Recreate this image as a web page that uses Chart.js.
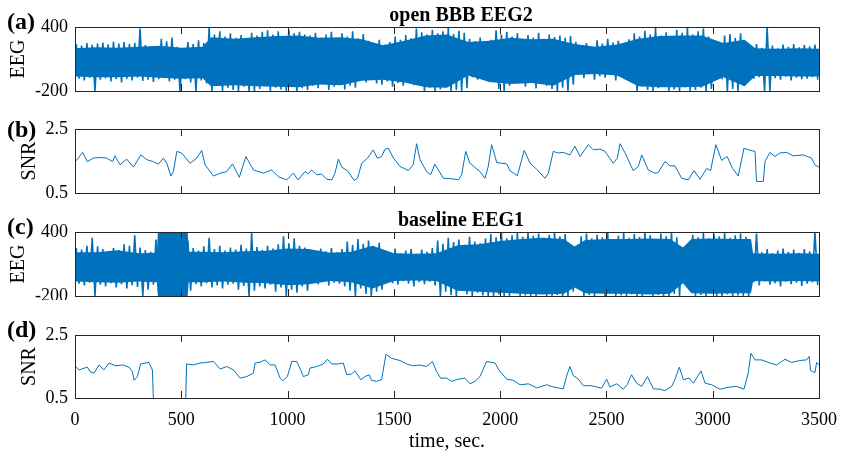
<!DOCTYPE html>
<html>
<head>
<meta charset="utf-8">
<script src="https://cdn.jsdelivr.net/npm/chart.js@4.4.1/dist/chart.umd.min.js"></script>
<style>
  html, body { margin: 0; padding: 0; background: #fff; }
  #wrap { position: relative; width: 841px; height: 452px; }
  #wrap canvas { position: absolute; left: 0; }
</style>
</head>
<body>
<div id="wrap">
  <canvas id="panelA" width="841" height="100" style="top:0px"></canvas>
  <canvas id="panelB" width="841" height="100" style="top:100px"></canvas>
  <canvas id="panelC" width="841" height="100" style="top:200px"></canvas>
  <canvas id="panelD" width="841" height="152" style="top:300px"></canvas>
</div>
<script>
// EEG envelopes, one [low, high] pair per 25 s bin
const binSec = 25;
const eegA_hi = [240, 225, 250, 232, 245, 255, 238, 262, 245, 258, 240, 252, 385, 230, 215, 205,
  290, 265, 300, 215, 195, 260, 240, 275, 250, 395, 330, 360, 310, 340, 300, 325, 180, 345, 320, 355,
  370, 330, 360, 315, 375, 340, 355, 330, 320, 345, 300, 330, 355, 285, 340, 310, 360, 295, 335,
  270, 245, 280, 235, 260, 310, 280, 325, 295, 385, 350, 330, 375, 340, 360, 390, 335, 365, 345,
  290, 265, 300, 255, 280, 370, 330, 355, 310, 340, 280, 325, 300, 345, 290, 330, 305, 320, 300, 315,
  260, 230, 250, 215, 275, 245, 290, 255, 270, 240, 285, 340, 310, 365, 330, 390, 320, 350, 300, 375,
  345, 395, 330, 360, 385, 310, 240, 215, 320, 335, 300, 340, 230, 215, 240, 205, 400,
  225, 200, 235, 215, 240, 210, 230, 220, 235];
const eegA_lo = [-85, -100, -75, -200, -95, -80, -110, -90, -120, -85, -100, -75, -105, -95, -115, -90,
  -80, -110, -95, -200, -90, -120, -200, -100, -130, -200, -150, -200, -170, -190, -200, -160, -200,
  -200, -180, -150, -200, -170, -185, -200, -160, -200, -175, -190, -150, -175, -130, -190, -160, -140,
  -185, -150, -170, -100, -120, -90, -130, -140, -110, -160, -125, -150, -115, -145, -135,
  -200, -170, -200, -185, -160, -200, -190, -200, -175, -70, -95, -60, -110, -85, -180, -200, -150,
  -120, -90, -160, -110, -175, -130, -150, -180, -200, -170, -200, -140,
  -50, -80, -40, -95, -60, -75, -45, -100, -65, -85, -110,
  -200, -160, -190, -200, -175, -150, -200, -185, -200, -165, -200, -190, -170, -200, -180,
  -70, -90, -200, -180, -200, -150, -60, -85, -70, -200, -200, -80, -95, -65, -100, -75, -90, -85, -70, -95];
const eegC_hi = [250, 235, 270, 345, 265, 240, 220, 250, 230, 285, 270, 370, 255, 230, 215, 330,
  400, 400, 400, 400, 400, 320, 250, 225, 265, 345, 240, 270, 225, 255, 235, 280, 245, 390,
  260, 230, 270, 245, 285, 360, 295, 340, 270, 255, 230, 215, 245, 220, 250, 210, 240,
  310, 280, 335, 290, 320, 265, 300, 230, 210, 245, 200, 225, 240, 195, 235, 215, 250,
  320, 290, 345, 305, 330, 280, 355, 310, 295, 340,
  380, 350, 395, 340, 370, 390, 355, 400, 365, 385, 345, 375, 395, 360, 380, 250, 270,
  360, 385, 340, 375, 350, 390, 325, 365, 395, 345, 380, 355, 400, 370, 335, 385, 360, 390, 350,
  255, 240, 375, 350, 395, 340, 380, 360, 390, 345, 370, 385, 355,
  230, 385, 210, 240, 200, 225, 245, 215, 235, 205, 240, 220, 400];
const eegC_lo = [-85, -100, -75, -200, -95, -110, -80, -120, -90, -130, -100, -115, -200, -140, -95, -170,
  -200, -200, -200, -200, -200, -150, -90, -110, -80, -120, -100, -130, -95, -85, -140, -105, -200,
  -150, -110, -130, -95, -160, -120, -200, -140, -170, -110, -150, -70, -90, -60, -100, -75, -85, -110,
  -150, -200, -130, -180, -200, -160, -140, -55, -80, -95, -60, -85, -110, -70, -90, -65, -100,
  -200, -160, -190, -200, -150, -185, -200, -170, -195, -200,
  -200, -185, -200, -200, -175, -200, -195, -200, -200, -180, -200, -200, -190, -200, -200, -160, -130,
  -200, -190, -200, -175, -200, -140, -200, -195, -200, -185, -200, -200, -170, -200, -190, -200, -200, -180, -200,
  -80, -100, -200, -190, -200, -175, -200, -200, -185, -200, -195, -200, -200,
  -70, -100, -60, -95, -80, -110, -65, -90, -75, -105, -85, -70, -100];

// solid inner band of the EEG traces
const coreA_t = [0, 100, 200, 300, 400, 500, 600, 640, 750, 850, 950, 1050, 1150, 1250, 1350, 1450, 1550, 1650,
  1750, 1850, 1950, 2050, 2150, 2250, 2350, 2450, 2550, 2650, 2750, 2850, 2950, 3050, 3150, 3200, 3300, 3400, 3500];
const coreA_hi = [200, 210, 205, 215, 225, 205, 215, 305, 290, 305, 315, 320, 300, 305, 285, 230, 270, 320,
  330, 260, 270, 300, 285, 290, 240, 215, 235, 290, 315, 320, 320, 250, 280, 200, 195, 200, 195];
const coreA_lo = [-65, -70, -70, -65, -75, -85, -80, -155, -145, -155, -160, -165, -140, -145, -105, -95, -120, -165,
  -170, -55, -115, -135, -125, -150, -50, -40, -55, -155, -165, -165, -160, -70, -155, -60, -60, -65, -65];
const coreC_t = [0, 100, 200, 300, 385, 390, 530, 535, 600, 700, 800, 900, 1000, 1100, 1200, 1300, 1400, 1500,
  1600, 1700, 1800, 1900, 2000, 2100, 2200, 2300, 2350, 2400, 2500, 2600, 2700, 2800, 2860, 2900, 3000, 3100,
  3180, 3190, 3300, 3400, 3500];
const coreC_hi = [210, 210, 230, 200, 205, 400, 400, 215, 215, 210, 220, 225, 245, 240, 205, 215, 270, 200,
  195, 200, 275, 285, 315, 335, 345, 335, 265, 325, 335, 335, 340, 335, 255, 335, 340, 335,
  335, 200, 195, 200, 195];
const coreC_lo = [-65, -70, -75, -65, -70, -200, -200, -70, -70, -65, -75, -80, -100, -90, -60, -70, -130, -60,
  -55, -60, -150, -160, -170, -180, -185, -180, -120, -175, -180, -180, -185, -180, -80, -175, -180, -175,
  -175, -60, -65, -60, -65];

// SNR traces: time (s) and value
const snrB_t = [0, 12, 36, 58, 86, 118, 149, 177, 188, 212, 243, 275, 310, 338, 369, 392, 416, 432, 451, 463,
  479, 502, 541, 573, 596, 612, 651, 683, 714, 741, 773, 804, 839, 886, 925, 957, 996, 1027, 1049, 1082,
  1098, 1113, 1137, 1160, 1184, 1208, 1223, 1239, 1255, 1286, 1313, 1329, 1349, 1376, 1403, 1422, 1443,
  1458, 1474, 1498, 1529, 1568, 1591, 1607, 1623, 1654, 1673, 1693, 1733, 1780, 1803, 1819, 1838, 1858,
  1905, 1929, 1944, 1960, 1984, 2007, 2031, 2046, 2081, 2113, 2141, 2172, 2211, 2227, 2250, 2273, 2297,
  2328, 2352, 2376, 2415, 2438, 2470, 2493, 2532, 2551, 2564, 2588, 2626, 2650, 2666, 2697, 2728, 2744,
  2775, 2799, 2822, 2854, 2885, 2912, 2940, 2972, 2990, 3015, 3042, 3068, 3093, 3120, 3147, 3167, 3199,
  3206, 3238, 3246, 3269, 3293, 3316, 3348, 3379, 3426, 3465, 3481, 3500];
const snrB_v = [1.48, 1.56, 1.77, 1.48, 1.59, 1.61, 1.59, 1.48, 1.66, 1.38, 1.56, 1.31, 1.69, 1.54, 1.48, 1.40, 1.59, 1.43, 1.03, 1.17,
  1.80, 1.75, 1.43, 1.59, 1.83, 1.38, 1.03, 1.12, 1.17, 1.41, 0.99, 1.64, 1.22, 1.12, 1.22, 1.01, 0.91, 1.12, 0.91, 1.17,
  1.10, 1.22, 1.07, 1.09, 0.93, 0.91, 1.12, 1.56, 1.31, 1.17, 0.89, 0.96, 1.43, 1.59, 1.85, 1.59, 1.64,
  1.87, 1.90, 1.59, 1.33, 1.20, 1.38, 2.04, 1.54, 1.17, 1.07, 1.40, 0.96, 0.94, 0.91, 1.07, 1.80, 1.43,
  1.17, 0.96, 1.33, 2.01, 1.45, 1.43, 1.41, 1.20, 1.04, 1.83, 1.43, 1.24, 0.96, 1.12, 1.80, 1.75, 1.77,
  1.69, 1.96, 1.64, 2.01, 1.85, 1.87, 1.80, 1.43, 1.59, 2.04, 1.75, 1.20, 1.33, 1.69, 1.22, 1.12, 1.14,
  1.48, 1.35, 1.35, 0.96, 0.91, 1.20, 0.93, 1.27, 1.20, 2.01, 1.52, 1.64, 1.27, 1.03, 1.90, 1.85, 1.80,
  0.86, 0.86, 1.48, 1.77, 1.64, 1.75, 1.77, 1.66, 1.69, 1.59, 1.38, 1.31];
const snrD_t = [0, 19, 58, 70, 89, 113, 136, 160, 192, 223, 254, 270, 278, 293, 309, 348, 364, 370, 520, 525,
  557, 588, 620, 651, 683, 714, 745, 777, 808, 839, 847, 870, 894, 918, 941, 965, 977, 999, 1020, 1043,
  1062, 1074, 1098, 1105, 1137, 1168, 1188, 1207, 1239, 1262, 1278, 1301, 1317, 1345, 1364, 1384, 1395,
  1419, 1442, 1463, 1489, 1529, 1560, 1591, 1623, 1654, 1681, 1701, 1720, 1748, 1772, 1803, 1835, 1858,
  1882, 1905, 1936, 1976, 1999, 2031, 2062, 2094, 2133, 2172, 2219, 2250, 2297, 2312, 2328, 2344, 2368,
  2391, 2430, 2454, 2477, 2501, 2516, 2548, 2579, 2597, 2618, 2642, 2666, 2693, 2721, 2752, 2775, 2807,
  2822, 2843, 2862, 2889, 2909, 2945, 2964, 2995, 3034, 3073, 3112, 3147, 3167, 3180, 3199, 3230, 3269,
  3301, 3340, 3371, 3410, 3442, 3454, 3460, 3481, 3489, 3500];
const snrD_v = [1.52, 1.39, 1.48, 1.34, 1.29, 1.55, 1.39, 1.61, 1.52, 1.55, 1.48, 1.34, 1.06, 1.18, 1.58, 1.63, 1.39, 0.2, 0.2, 1.58,
  1.55, 1.61, 1.63, 1.66, 1.42, 1.50, 1.39, 1.13, 1.18, 1.29, 1.61, 1.63, 1.71, 1.55, 1.55, 1.13, 1.05, 1.18, 1.66, 1.66,
  1.39, 1.18, 1.24, 1.45, 1.50, 1.58, 1.73, 1.58, 1.58, 1.61, 1.24, 1.26, 1.36, 1.08, 1.18, 1.24, 1.06,
  1.03, 1.08, 1.89, 1.76, 1.69, 1.58, 1.52, 1.55, 1.50, 1.66, 1.34, 1.13, 1.13, 1.03, 1.10, 1.13, 0.95,
  1.03, 1.18, 1.66, 1.61, 1.34, 1.10, 1.06, 0.92, 0.95, 0.82, 0.92, 0.85, 0.79, 1.18, 1.50, 1.21, 1.10,
  0.89, 0.89, 0.85, 0.81, 1.10, 0.85, 0.95, 0.78, 0.92, 1.24, 0.97, 0.87, 1.18, 0.79, 0.78, 0.73, 0.87,
  1.08, 1.48, 1.08, 1.13, 0.97, 1.36, 0.97, 0.92, 0.78, 0.84, 0.87, 0.78, 1.29, 1.92, 1.71, 1.71, 1.61,
  1.55, 1.73, 1.63, 1.69, 1.71, 1.82, 1.37, 1.31, 1.63, 1.55];

const xTicks = [0, 500, 1000, 1500, 2000, 2500, 3000, 3500];

const serif = "'Liberation Serif', 'Times New Roman', serif";
const blue = '#0072BD';

// box round the plot, inward ticks top and bottom, panel letters and titles
const frame = {
  id: 'frame',
  afterDraw(chart, args, opts) {
    const { ctx, chartArea: a, scales: { x } } = chart;
    ctx.save();
    ctx.strokeStyle = '#262626';
    ctx.lineWidth = 1;
    ctx.beginPath();
    x.ticks.forEach(t => {
      if (t.value <= x.min || t.value >= x.max) return;
      const px = Math.round(x.getPixelForValue(t.value)) + 0.5;
      ctx.moveTo(px, a.top);
      ctx.lineTo(px, a.top + 7);
      ctx.moveTo(px, a.bottom);
      ctx.lineTo(px, a.bottom - 7);
    });
    ctx.stroke();
    ctx.strokeRect(Math.round(a.left) + 0.5, Math.round(a.top) + 0.5, Math.round(a.width), Math.round(a.height));
    ctx.fillStyle = '#000';
    ctx.textBaseline = 'alphabetic';
    (opts.texts || []).forEach(t => {
      ctx.font = t.font;
      ctx.textAlign = t.align || 'left';
      ctx.fillText(t.text, t.x, t.y - opts.top);
    });
    ctx.restore();
  }
};

function xAxis(height, labels) {
  return {
    type: 'linear',
    min: 0,
    max: 3500,
    offset: false,
    grid: { display: false, drawTicks: false, offset: false },
    border: { display: false },
    afterBuildTicks: s => { s.ticks = xTicks.map(v => ({ value: v })); },
    ticks: { display: labels, padding: 11, color: '#000', maxRotation: 0, autoSkip: false,
      font: { family: serif, size: 18 }, callback: v => String(v) },
    title: { display: labels, text: 'time, sec.', color: '#000', font: { family: serif, size: 20, lineHeight: 1 },
      padding: { top: 0, bottom: 0 } },
    afterFit: s => { s.height = height; s.paddingLeft = 0; s.paddingRight = 0; }
  };
}

function yAxis(min, max, label, titlePad, fmt) {
  return {
    min: min,
    max: max,
    grid: { display: false, drawTicks: false },
    border: { display: false },
    afterBuildTicks: s => { s.ticks = [{ value: min }, { value: max }]; },
    ticks: { padding: 7, color: '#000', font: { family: serif, size: 18 }, callback: fmt },
    title: { display: true, text: label, color: '#000', font: { family: serif, size: 20 }, padding: { top: titlePad, bottom: 0 } },
    afterFit: s => { s.width = 75; s.paddingTop = 0; s.paddingBottom = 0; }
  };
}

function letter(text, y) {
  return { text: text, x: 7, y: y, font: 'bold 24px ' + serif };
}

function baseOptions(xAx, yAx, top, texts) {
  return {
    responsive: false,
    animation: false,
    layout: { padding: { top: texts.padTop, right: 22, bottom: 0, left: 0 } },
    scales: { x: xAx, y: yAx },
    plugins: {
      legend: { display: false },
      tooltip: { enabled: false },
      filler: { propagate: false },
      frame: { top: top, texts: texts.list }
    }
  };
}

function eegChart(id, top, padTop, xHeight, lo, hi, coreT, coreLo, coreHi, texts) {
  // max and min of every bin, joined as one zig-zag trace
  const trace = [];
  hi.forEach((h, i) => {
    trace.push({ x: i * binSec + 6, y: h });
    trace.push({ x: i * binSec + 19, y: lo[i] });
  });
  return new Chart(document.getElementById(id), {
    type: 'line',
    data: {
      datasets: [
        { data: coreT.map((t, i) => ({ x: t, y: coreHi[i] })), borderWidth: 0, pointRadius: 0,
          backgroundColor: blue, fill: '+1' },
        { data: coreT.map((t, i) => ({ x: t, y: coreLo[i] })), borderWidth: 0, pointRadius: 0, fill: false },
        { data: trace, borderColor: blue, borderWidth: 1.6, pointRadius: 0, fill: false, clip: 0 }
      ]
    },
    options: baseOptions(xAxis(xHeight, false), yAxis(-200, 400, 'EEG', 6.5, v => String(v)), top,
      { padTop: padTop, list: texts }),
    plugins: [frame]
  });
}

function snrChart(id, top, padTop, xHeight, times, values, labels, texts) {
  return new Chart(document.getElementById(id), {
    type: 'line',
    data: {
      datasets: [{
        data: times.map((t, i) => ({ x: t, y: values[i] })),
        borderColor: blue,
        borderWidth: 1,
        pointRadius: 0,
        tension: 0
      }]
    },
    options: baseOptions(xAxis(xHeight, labels), yAxis(0.5, 2.5, 'SNR', 18, v => v.toFixed(1)), top,
      { padTop: padTop, list: texts }),
    plugins: [frame]
  });
}

eegChart('panelA', 0, 27, 9, eegA_lo, eegA_hi, coreA_t, coreA_lo, coreA_hi, [
  letter('(a)', 29),
  { text: 'open BBB EEG2', x: 461, y: 21, font: 'bold 20px ' + serif, align: 'center' }
]);
snrChart('panelB', 100, 29, 7, snrB_t, snrB_v, false, [letter('(b)', 137)]);
eegChart('panelC', 200, 32, 4, eegC_lo, eegC_hi, coreC_t, coreC_lo, coreC_hi, [
  letter('(c)', 234),
  { text: 'baseline EEG1', x: 461, y: 226, font: 'bold 20px ' + serif, align: 'center' }
]);
snrChart('panelD', 300, 35, 54, snrD_t, snrD_v, true, [letter('(d)', 337)]);
</script>
</body>
</html>
